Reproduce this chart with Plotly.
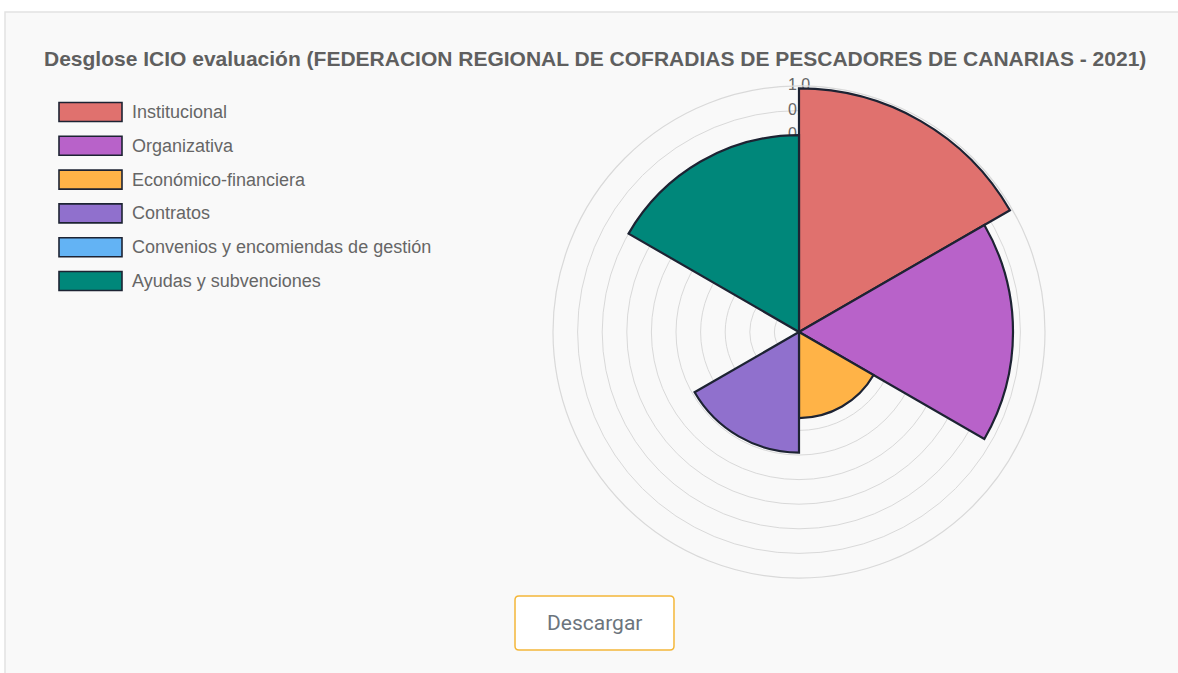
import plotly.graph_objects as go

# ---- data ----
categories = ["Institucional", "Organizativa", "Económico-financiera", "Contratos",
              "Convenios y encomiendas de gestión", "Ayudas y subvenciones"]
values = [0.99, 0.87, 0.35, 0.49, 0.0, 0.80]
colors = ["#e0716e", "#b862c9", "#ffb347", "#9070cd", "#63b3f4", "#00877a"]
title_text = "Desglose ICIO evaluación (FEDERACION REGIONAL DE COFRADIAS DE PESCADORES DE CANARIAS - 2021)"
radial_ticks = [round(0.1 * i, 1) for i in range(1, 11)]
button_text = "Descargar"

W, H = 1178, 673
FONT = "Liberation Sans, Arial, sans-serif"
TXT = "#666666"
EDGE = "#1d2333"
GRID = "#d9d9d9"

n = len(categories)
sector = 360 / n
thetas = [i * sector + sector / 2 for i in range(n)]

fig = go.Figure()
# radial tick labels on the lower polar subplot, so the sectors (upper subplot) cover them
fig.add_trace(go.Scatterpolar(
    r=radial_ticks, theta=[0] * len(radial_ticks),
    mode="text", text=[f"{v:.1f}" for v in radial_ticks],
    textposition="middle center",
    textfont=dict(family=FONT, size=16, color=TXT),
    showlegend=False, hoverinfo="skip", subplot="polar",
))
fig.add_trace(go.Barpolar(
    r=values,
    theta=thetas,
    width=[sector] * n,
    customdata=categories,
    hovertemplate="%{customdata}: %{r}<extra></extra>",
    marker=dict(color=colors, line=dict(color=EDGE, width=2.2)),
    showlegend=False, subplot="polar2",
))

cx, cy, R = 799, 332, 246
def px(x):
    return x / W
def py(y):
    return 1 - y / H

shapes = []
annotations = []

# panel background
shapes.append(dict(type="rect", xref="paper", yref="paper",
                   x0=px(5), x1=px(1185), y0=py(680), y1=py(12),
                   fillcolor="#f9f9f9", line=dict(color="#e2e2e2", width=1.5),
                   layer="below"))

# legend (manual, Chart.js style boxes)
for i, (name, col) in enumerate(zip(categories, colors)):
    yc = 112 + i * 33.8
    shapes.append(dict(type="rect", xref="paper", yref="paper",
                       x0=px(59), x1=px(122), y0=py(yc + 9.5), y1=py(yc - 9.5),
                       fillcolor=col, line=dict(color=EDGE, width=1.6)))
    annotations.append(dict(text=name, xref="paper", yref="paper",
                            x=px(130), y=py(yc), xanchor="left", yanchor="middle",
                            showarrow=False, font=dict(family=FONT, size=18, color=TXT)))

# title
annotations.append(dict(text="<b>" + title_text + "</b>", xref="paper", yref="paper",
                        x=px(595), y=py(58), xanchor="center", yanchor="middle",
                        showarrow=False, font=dict(family=FONT, size=21, color="#5f5f5f")))

# download button
bx0, bx1, by0, by1, rr = 515, 674, 596, 650, 4
def conv_path(x0, x1, y0, y1, r):
    X = lambda v: f"{px(v):.6f}"
    Y = lambda v: f"{py(v):.6f}"
    return (f"M {X(x0+r)},{Y(y0)} L {X(x1-r)},{Y(y0)} Q {X(x1)},{Y(y0)} {X(x1)},{Y(y0+r)} "
            f"L {X(x1)},{Y(y1-r)} Q {X(x1)},{Y(y1)} {X(x1-r)},{Y(y1)} L {X(x0+r)},{Y(y1)} "
            f"Q {X(x0)},{Y(y1)} {X(x0)},{Y(y1-r)} L {X(x0)},{Y(y0+r)} Q {X(x0)},{Y(y0)} {X(x0+r)},{Y(y0)} Z")
shapes.append(dict(type="path", xref="paper", yref="paper",
                   path=conv_path(bx0, bx1, by0, by1, rr),
                   fillcolor="#ffffff", line=dict(color="#f4b73a", width=1.5)))
annotations.append(dict(text=button_text, xref="paper", yref="paper",
                        x=px((bx0 + bx1) / 2), y=py((by0 + by1) / 2),
                        xanchor="center", yanchor="middle", showarrow=False,
                        font=dict(family="Roboto, " + FONT, size=21, color="#6c757d")))

domain = dict(x=[px(cx - R), px(cx + R)], y=[py(cy + R), py(cy - R)])
angular_common = dict(direction="clockwise", rotation=90, showticklabels=False,
                      ticks="", showgrid=False)

fig.update_layout(
    width=W, height=H,
    margin=dict(l=0, r=0, t=0, b=0),
    paper_bgcolor="#ffffff",
    plot_bgcolor="rgba(0,0,0,0)",
    shapes=shapes,
    annotations=annotations,
    polar=dict(
        domain=domain,
        bgcolor="rgba(0,0,0,0)",
        angularaxis=dict(**angular_common, showline=True, linecolor=GRID, linewidth=1.2),
        radialaxis=dict(range=[0, 1.0], tickvals=radial_ticks, showticklabels=False,
                        angle=90, showline=False, ticks="",
                        gridcolor=GRID, gridwidth=1.2),
    ),
    polar2=dict(
        domain=domain,
        bgcolor="rgba(0,0,0,0)",
        bargap=0,
        angularaxis=dict(**angular_common, showline=False),
        radialaxis=dict(range=[0, 1.0], showticklabels=False, showgrid=False,
                        angle=90, showline=False, ticks=""),
    ),
)

fig.write_html("out.html",
               config={"displayModeBar": False},
               post_script="document.body.style.margin='0';document.body.style.overflow='hidden';")
